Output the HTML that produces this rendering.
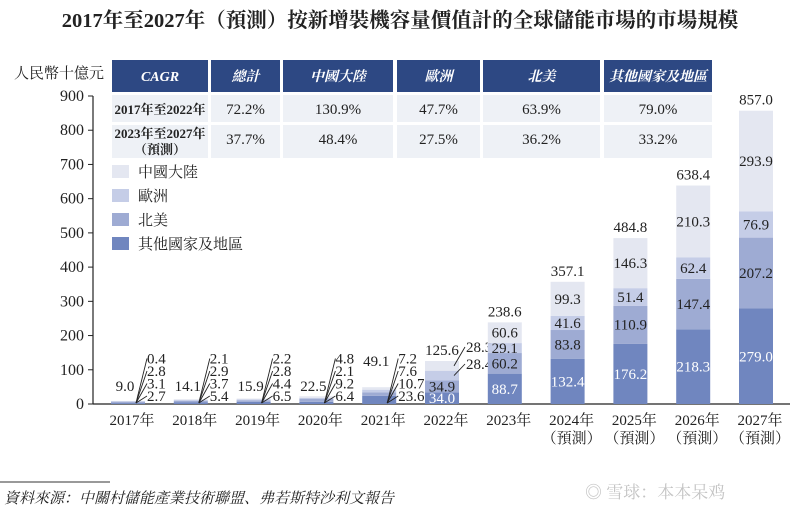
<!DOCTYPE html>
<html><head><meta charset="utf-8">
<style>
body{margin:0;background:#fff;}
svg text{font-family:"Liberation Serif","Noto Serif CJK SC","Noto Sans CJK TC",serif;fill:#222;}
</style></head>
<body>
<svg width="800" height="514" viewBox="0 0 800 514" xmlns="http://www.w3.org/2000/svg">
<text x="400" y="27" text-anchor="middle" font-size="20.5" font-weight="bold">2017年至2027年（預測）按新增裝機容量價值計的全球儲能市場的市場規模</text>
<text x="14" y="78" font-size="15">人民幣十億元</text>
<g id="table"></g>
<g id="axis"></g>
<g id="bars"></g>
<g id="legend"></g>
<line x1="0" y1="482" x2="110" y2="482" stroke="#333" stroke-width="1"/>
<text x="4" y="503" font-size="15" font-style="italic">資料來源：中關村儲能產業技術聯盟、弗若斯特沙利文報告</text>
<text x="585" y="498" font-size="17" style="fill:#c4c4c4">◎ 雪球：本本呆鸡</text>
</svg>
<script>
const years=["2017年","2018年","2019年","2020年","2021年","2022年","2023年","2024年","2025年","2026年","2027年"];
const forecast=[false,false,false,false,false,false,false,true,true,true,true];
const others=[2.7,5.4,6.5,6.4,23.6,34.0,88.7,132.4,176.2,218.3,279.0];
const northAmerica=[3.1,3.7,4.4,9.2,10.7,34.9,60.2,83.8,110.9,147.4,207.2];
const europe=[2.8,2.9,2.8,2.1,7.6,28.4,29.1,41.6,51.4,62.4,76.9];
const china=[0.4,2.1,2.2,4.8,7.2,28.3,60.6,99.3,146.3,210.3,293.9];
const totals=[9.0,14.1,15.9,22.5,49.1,125.6,238.6,357.1,484.8,638.4,857.0];
const yTicks=[0,100,200,300,400,500,600,700,800,900];
const seriesNames=["其他國家及地區","北美","歐洲","中國大陸"];
const tableHead=["CAGR","總計","中國大陸","歐洲","北美","其他國家及地區"];
const tableRow1=["2017年至2022年","72.2%","130.9%","47.7%","63.9%","79.0%"];
const tableRow2=["2023年至2027年","37.7%","48.4%","27.5%","36.2%","33.2%"];

const NS="http://www.w3.org/2000/svg";
const colors=["#7086bf","#9eabd3","#c5cde7","#e4e7f1"];
const y0=404,yTop=96,vMax=900;
const Y=v=>y0-(v/vMax)*(y0-yTop);
const X=i=>128+i*62.8;
const BW=34;
function mk(tag,attrs,parent,txt){const e=document.createElementNS(NS,tag);for(const k in attrs)e.setAttribute(k,attrs[k]);if(txt!==undefined)e.textContent=txt;parent.appendChild(e);return e;}

const ax=document.getElementById('axis');
let l=mk('line',{x1:93,y1:yTop,x2:93,y2:y0,stroke:'#222','stroke-width':1.2},ax);


l=mk('line',{x1:93,y1:y0,x2:790,y2:y0,stroke:'#222','stroke-width':1.2},ax);


yTicks.forEach(t=>{
  mk('line',{x1:88,y1:Y(t),x2:93,y2:Y(t),stroke:'#222'},ax);
  const tx=mk('text',{x:84,y:Y(t)+5,'text-anchor':'end','font-size':16},ax,t);
  
  
});

const bg=document.getElementById('bars');
const series=[others,northAmerica,europe,china];
years.forEach((yr,i)=>{
  const cx=X(i);let acc=0;
  series.forEach((s,k)=>{
    const v=s[i];
    const r=mk('rect',{x:cx-BW/2,y:Y(acc+v),width:BW,height:Y(acc)-Y(acc+v),fill:colors[k]},bg);
    
    
    acc+=v;
  });
  if(i<5){
    const vals=[others[i],northAmerica[i],europe[i],china[i]];
    vals.forEach((v,k)=>{
      const ly=y0-3-k*12.5;
      mk('line',{x1:cx+8,y1:y0-1,x2:cx+19,y2:ly-5,stroke:'#222','stroke-width':0.9},bg);
      const t=mk('text',{x:cx+19,y:ly,'font-size':15},bg,v.toFixed(1));
      
      
    });
    const t=mk('text',{x:cx-3,y:i<4? y0-13: y0-38,'text-anchor':'middle','font-size':15},bg,totals[i].toFixed(1));
    
    
  } else {
    let acc2=0;
    series.forEach((s,k)=>{
      const v=s[i];const mid=Y(acc2+v/2);
      let tx=cx,anchor='middle',ty=mid+5;
      if(i===5&&k>=2){tx=cx+24;anchor='start';ty=k===2?y0-35:y0-52;
        mk('line',{x1:cx+12,y1:Y(acc2+v/2),x2:cx+23,y2:ty-5,stroke:'#222','stroke-width':0.9},bg);}
      const t=mk('text',{x:tx,y:ty,'text-anchor':anchor,'font-size':15,style:k===0?'fill:#fff':''},bg,v.toFixed(1));
      
      
      acc2+=v;
    });
    const t=mk('text',{x:cx,y:Y(totals[i])-6,'text-anchor':'middle','font-size':15},bg,totals[i].toFixed(1));
    
    
  }
  const xl=mk('text',{x:cx+4,y:425,'text-anchor':'middle','font-size':15},bg,yr);
  
  
  if(forecast[i]){
    const f=mk('text',{x:cx+4,y:443,'text-anchor':'middle','font-size':15},bg,'（預測）');
    
    
  }
});

const tb=document.getElementById('table');
const cols=[[112,208],[211,280],[283,393],[397,480],[483,600],[604,712]];
cols.forEach((c,j)=>{
  mk('rect',{x:c[0],y:60,width:c[1]-c[0],height:32,fill:'#2d4883'},tb);
  const h=mk('text',{x:(c[0]+c[1])/2,y:81,'text-anchor':'middle','font-size':14,'font-weight':'bold','font-style':'italic',style:'fill:#fff'},tb,tableHead[j]);
  
  
  mk('rect',{x:c[0],y:95,width:c[1]-c[0],height:27,fill:'#eef1f6'},tb);
  mk('rect',{x:c[0],y:125,width:c[1]-c[0],height:33,fill:'#eef1f6'},tb);
  const a=mk('text',{x:(c[0]+c[1])/2,y:114,'text-anchor':'middle','font-size':j?15:13,'font-weight':j?'normal':'bold'},tb,tableRow1[j]);
  
  
  const b=mk('text',{x:(c[0]+c[1])/2,y:j?144:138,'text-anchor':'middle','font-size':j?15:13,'font-weight':j?'normal':'bold'},tb,tableRow2[j]);
  
  
  if(j===0){const p=mk('text',{x:160,y:154,'text-anchor':'middle','font-size':13,'font-weight':'bold'},tb,'（預測）');
    
    }
});

const lg=document.getElementById('legend');
[3,2,1,0].forEach((k,n)=>{
  const yy=165+n*24;
  mk('rect',{x:112,y:yy,width:17,height:13,fill:colors[k]},lg);
  const t=mk('text',{x:138,y:yy+12,'font-size':15},lg,seriesNames[k]);
  
  
});
</script>
</body></html>
